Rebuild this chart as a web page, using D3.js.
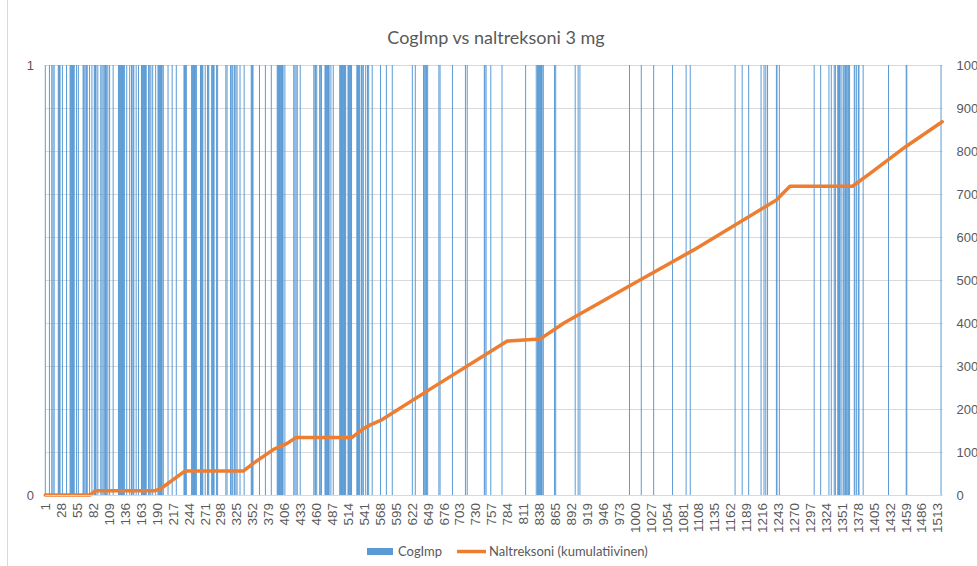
<!DOCTYPE html>
<html><head>
<meta charset="utf-8">
<title>CogImp vs naltreksoni 3 mg</title>
<script src="https://d3js.org/d3.v7.min.js"></script>
<style>
  body { margin: 0; background: #fff; }
  svg { font-family: Lato, "Open Sans", sans-serif; }
  .tick text { fill: #595959; }
</style>
</head>
<body>
<svg id="chart" width="977" height="566"></svg>
<script>

// days (1..1521) on which CogImp = 1
const dayCount = 1521;
const cogImpDays = [
  1, 8, 12, 14, 16, 23, 24, 25, 26, 30, 37, 43, 44, 45, 46, 47, 48, 49, 50, 54, 57,
  65, 66, 68, 70, 71, 72, 76, 80, 84, 85, 86, 87, 90, 95, 97, 99, 101, 103, 105, 107, 110, 116,
  125, 126, 127, 128, 129, 130, 131, 132, 133, 134, 135, 139, 144, 147, 148, 150, 151, 155, 159,
  164, 165, 166, 167, 168, 169, 170, 171, 172, 176, 178, 180, 183, 188,
  192, 193, 194, 195, 196, 197, 198, 199, 201, 209, 216, 223, 236, 237, 238, 239, 240,
  249, 250, 251, 252, 253, 254, 255, 256, 257, 264, 265, 266, 267, 268, 272, 276, 277, 278,
  283, 284, 285, 286, 287, 291, 293, 307, 309, 315, 316, 318, 321, 322, 324, 326, 331, 338,
  350, 351, 352, 353, 364, 374, 384, 394, 395, 396, 397, 398, 399, 400, 401, 402, 403, 404, 407,
  422, 424, 426, 428, 433, 456, 458, 459, 461, 466, 467, 469, 475, 476, 477, 478, 479, 480, 481, 482, 485, 489,
  500, 501, 502, 503, 504, 505, 506, 507, 508, 509, 510, 514, 515, 516, 517, 518, 519, 520,
  529, 530, 531, 532, 533, 534, 537, 538, 540, 544, 547, 549, 555, 569, 579, 589,
  623, 628, 642, 644, 645, 647, 649, 668, 670, 691, 713, 716, 745, 746, 748, 756, 775, 815,
  833, 835, 836, 837, 838, 839, 840, 841, 842, 843, 845, 864, 866, 899, 904, 907,
  991, 1011, 1032, 1064, 1087, 1094, 1170, 1182, 1193, 1214, 1219, 1222, 1225, 1240, 1241, 1245,
  1304, 1315, 1329, 1333, 1338, 1340, 1344, 1345, 1346, 1347, 1348, 1351, 1354, 1356, 1357, 1359, 1361, 1362, 1364,
  1372, 1373, 1376, 1379, 1380, 1387, 1430, 1460, 1461, 1519
];

// cumulative naltrexone at these days
const naltDays   = [1, 77, 86, 187, 196, 238, 337, 354, 388, 411, 426, 521, 541, 552, 570, 660, 784, 840, 880, 993, 1100, 1240, 1263, 1369, 1400, 1459, 1521];
const naltValues = [0, 0, 10, 10, 14, 56, 56, 74, 106, 120, 134, 134, 155, 163, 174, 252, 358, 363, 400, 488, 570, 686, 718, 718, 749, 810, 868];

const xTickLabels = [1, 28, 55, 82, 109, 136, 163, 190, 217, 244, 271, 298, 325, 352, 379, 406, 433, 460, 487, 514,
  541, 568, 595, 622, 649, 676, 703, 730, 757, 784, 811, 838, 865, 892, 919, 946, 973, 1000, 1027, 1054,
  1081, 1108, 1135, 1162, 1189, 1216, 1243, 1270, 1297, 1324, 1351, 1378, 1405, 1432, 1459, 1486, 1513];
const leftTicks = [0, 1];
const rightTicks = [0, 100, 200, 300, 400, 500, 600, 700, 800, 900, 1000];

const svg = d3.select("#chart");
const plotLeft = 45, plotRight = 942.5, plotTop = 65, plotBottom = 495;

const x = d3.scaleBand().domain(d3.range(1, dayCount + 1)).range([plotLeft, plotRight]).padding(0);
const yLeft = d3.scaleLinear().domain([0, 1]).range([plotBottom, plotTop]);
const yRight = d3.scaleLinear().domain([0, 1000]).range([plotBottom, plotTop]);

// chart area border (left edge)
svg.append("line").attr("x1", 7.5).attr("x2", 7.5).attr("y1", 0).attr("y2", 566)
   .attr("stroke", "#d9d9d9");

// title
svg.append("text").attr("x", 496).attr("y", 44).attr("text-anchor", "middle")
   .attr("font-size", 18).attr("fill", "#595959").text("CogImp vs naltreksoni 3 mg");

// gridlines
svg.append("g").selectAll("line").data(rightTicks).join("line")
   .attr("x1", plotLeft).attr("x2", plotRight)
   .attr("y1", d => Math.round(yRight(d)) + 0.5).attr("y2", d => Math.round(yRight(d)) + 0.5)
   .attr("stroke", "#d9d9d9").attr("stroke-width", 1);

// bars (at least 1px wide, like the spreadsheet renders them)
const bars = cogImpDays.map(d => ({ day: d, value: 1 }));
const barW = Math.max(x.bandwidth(), 1);
svg.append("g").selectAll("rect").data(bars).join("rect")
   .attr("x", d => x(d.day) + x.bandwidth() / 2 - barW / 2)
   .attr("width", barW)
   .attr("y", d => yLeft(d.value))
   .attr("height", d => yLeft(0) - yLeft(d.value))
   .attr("fill", "#5b9bd5");

// cumulative line
const nalt = naltDays.map((d, i) => ({ day: d, value: naltValues[i] }));
const line = d3.line().x(d => x(d.day) + x.bandwidth() / 2).y(d => yRight(d.value));
svg.append("path").datum(nalt).attr("d", line)
   .attr("fill", "none").attr("stroke", "#ed7d31").attr("stroke-width", 3.5)
   .attr("stroke-linejoin", "round").attr("stroke-linecap", "round");

// x axis
const xAxis = svg.append("g").attr("transform", "translate(0," + plotBottom + ")")
   .call(d3.axisBottom(x).tickValues(xTickLabels).tickSize(0).tickPadding(0));
xAxis.select(".domain").attr("stroke", "#d9d9d9");
xAxis.selectAll("text")
   .attr("font-size", 13.5)
   .attr("transform", "rotate(-90)")
   .attr("text-anchor", "end")
   .attr("x", -8).attr("y", 0).attr("dy", "0.35em");

// left axis
const yAxisL = svg.append("g").attr("transform", "translate(" + plotLeft + ",0)")
   .call(d3.axisLeft(yLeft).tickValues(leftTicks).tickFormat(d3.format("d")).tickSize(0).tickPadding(11));
yAxisL.select(".domain").remove();
yAxisL.selectAll("text").attr("font-size", 13);

// right axis
const yAxisR = svg.append("g").attr("transform", "translate(" + plotRight + ",0)")
   .call(d3.axisRight(yRight).tickValues(rightTicks).tickFormat(d3.format("d")).tickSize(0).tickPadding(14));
yAxisR.select(".domain").remove();
yAxisR.selectAll("text").attr("font-size", 13);

// legend
const legend = svg.append("g");
legend.append("rect").attr("x", 367).attr("y", 548).attr("width", 26).attr("height", 7).attr("fill", "#5b9bd5");
legend.append("text").attr("x", 398).attr("y", 556).attr("font-size", 13).attr("fill", "#595959").text("CogImp");
legend.append("line").attr("x1", 457).attr("x2", 486).attr("y1", 551.5).attr("y2", 551.5)
   .attr("stroke", "#ed7d31").attr("stroke-width", 3.5);
legend.append("text").attr("x", 489).attr("y", 556).attr("font-size", 13).attr("fill", "#595959").text("Naltreksoni (kumulatiivinen)");

</script>
</body>
</html>
